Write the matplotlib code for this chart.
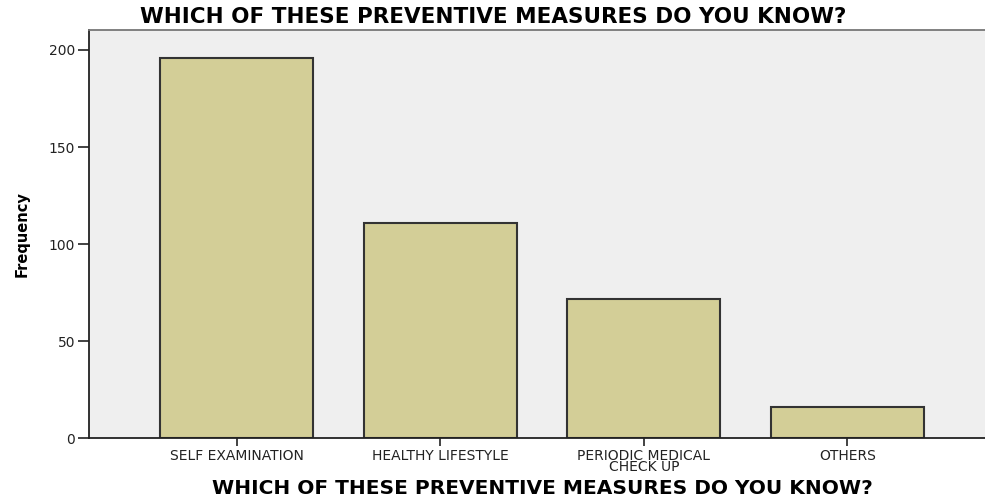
import matplotlib
matplotlib.use('Agg')
from matplotlib import pyplot as plt

plt.rcParams['font.family'] = ['DejaVu Sans']

categories = ['SELF EXAMINATION', 'HEALTHY LIFESTYLE', 'PERIODIC MEDICAL\nCHECK UP', 'OTHERS']
freq = [196, 111, 72, 16]
yticks = [0, 50, 100, 150, 200]
title = 'WHICH OF THESE PREVENTIVE MEASURES DO YOU KNOW?'

fig = plt.figure(figsize=(9.85, 4.97), dpi=100)
# axes run past the right edge of the figure, like the original
ax = fig.add_axes([89/985, (497-438.3)/497, (995-89)/985, (438.3-30)/497])
ax.set_facecolor('#EFEFEF')

x = list(range(len(categories)))
ax.bar(x, freq, width=0.75, color='#D3CE97', edgecolor='#333333', linewidth=1.5, zorder=2)

ax.set_xlim(-0.725, 3.725)
ax.set_ylim(0, 210.3)
ax.set_yticks(yticks)
ax.set_xticks(x)
ax.set_xticklabels(categories, fontsize=10, linespacing=0.75)
ax.tick_params(axis='y', length=8, width=1.2, labelsize=10, colors='#222222', pad=2)
ax.tick_params(axis='x', length=6, width=1.2, pad=1.5, colors='#222222')

for s in ['left', 'bottom']:
    ax.spines[s].set_color('#222222')
    ax.spines[s].set_linewidth(1.3)
ax.spines['top'].set_color('#777777')
ax.spines['top'].set_linewidth(1.3)
ax.spines['right'].set_visible(False)

ax.set_ylabel('Frequency', fontsize=10.5, fontweight='bold', labelpad=14,
              family='Liberation Sans Narrow')
fig.text(542/985, 1 - 489/497, title, ha='center', va='center', fontsize=14.5, fontweight='bold')
fig.text(493/985, 1 - 17/497, title, ha='center', va='center', fontsize=15.5, fontweight='bold')

plt.savefig('out.png', dpi=100)
